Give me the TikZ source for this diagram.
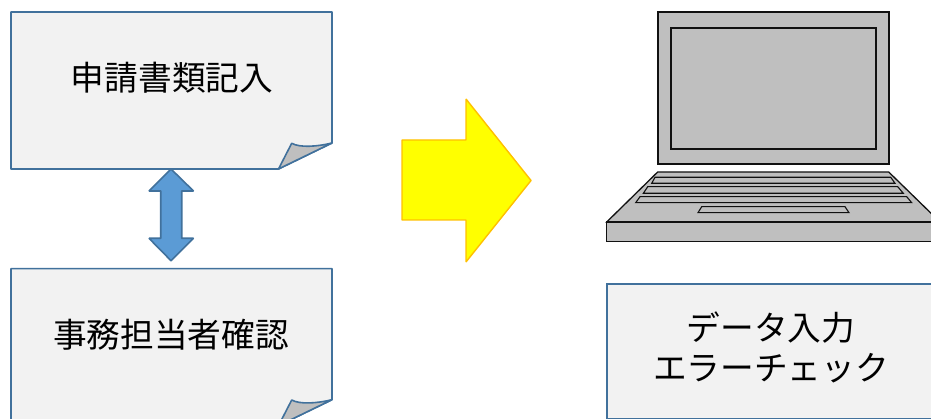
\documentclass[tikz,border=0pt]{standalone}
\usepackage{fontspec}
\setmainfont{Noto Sans CJK JP}
\definecolor{docblue}{HTML}{41719C}
\definecolor{docfill}{HTML}{F2F2F2}
\definecolor{curlgray}{HTML}{BFBFBF}
\definecolor{lapline}{HTML}{111111}
\definecolor{arrowedge}{HTML}{41719C}
\definecolor{arrowfill}{HTML}{5B9BD5}
\definecolor{goldedge}{HTML}{FFC000}
\definecolor{pureyellow}{HTML}{FFFF00}
\tikzset{
  doc/.style={draw=docblue,line width=1.6pt,fill=docfill,line join=round},
  curl/.style={draw=docblue,line width=1.6pt,fill=curlgray,line join=round},
  lap/.style={draw=lapline,line width=1.3pt,fill=curlgray,line join=miter},
  lab/.style={font=\fontsize{33.7}{40}\selectfont,text=black,align=center,inner sep=0pt},
  dbl/.style={draw=arrowedge,line width=1.6pt,fill=arrowfill,line join=bevel},
  bigarrow/.style={draw=goldedge,line width=1.4pt,fill=pureyellow,line join=bevel}
}
\begin{document}
\begin{tikzpicture}[x=1pt,y=-1pt]
\useasboundingbox (0,0) rectangle (931,419);
\clip (0,0) rectangle (931,419);
% documents
\foreach \off in {0,256.7}{
  \begin{scope}[yshift=-\off pt]
  \draw[doc] (11,12) -- (332,12) -- (332,143) -- (278.5,169) -- (11,169) -- cycle;
  \draw[curl] (278.5,169) -- (291.7,143.3) .. controls (300,148) and (318,146.5) .. (332,143) -- cycle;
  \end{scope}
}
\node[lab] (t1) at (172,77.5) {申請書類記入};
\node[lab] (t2) at (171,334.5) {事務担当者確認};
% double arrow
\draw[dbl] (171,169) -- (193.5,191) -- (181.7,191) -- (181.7,238.3) -- (193.5,238.3) -- (171,260.7) -- (149,238.3) -- (160.7,238.3) -- (160.7,191) -- (149,191) -- cycle;
% big arrow
\draw[bigarrow] (402,140) -- (466,140) -- (466,99) -- (531,180.5) -- (466,262) -- (466,220) -- (402,220) -- cycle;
% laptop
\draw[lap] (658,12) rectangle (889,164);
\draw[lap] (671,28) rectangle (876,149);
\draw[lap] (657.7,172) -- (888.7,172) -- (940,222) -- (606.7,222) -- cycle;
\draw[lap] (606.7,222) rectangle (940,241.5);
\draw[lap,line width=1.1pt] (655,177.3) -- (890.7,177.3) -- (895,183.3) -- (651.7,183.3) -- cycle;
\draw[lap,line width=1.1pt] (647.7,186.7) -- (897.7,186.7) -- (903.3,193.3) -- (643.3,193.3) -- cycle;
\draw[lap,line width=1.1pt] (640,196.7) -- (906.7,196.7) -- (911.7,202.7) -- (635.7,202.7) -- cycle;
\draw[lap,line width=1.1pt] (701.7,206.7) -- (845,206.7) -- (849,212.7) -- (698,212.7) -- cycle;
% text box
\node[draw=docblue,line width=1.6pt,fill=docfill,minimum width=340pt,minimum height=135pt,anchor=north west] (box) at (606,283.3) {};
\node[lab] (t3) at (771,347.5) {データ入力\\エラーチェック};
\end{tikzpicture}
\end{document}
